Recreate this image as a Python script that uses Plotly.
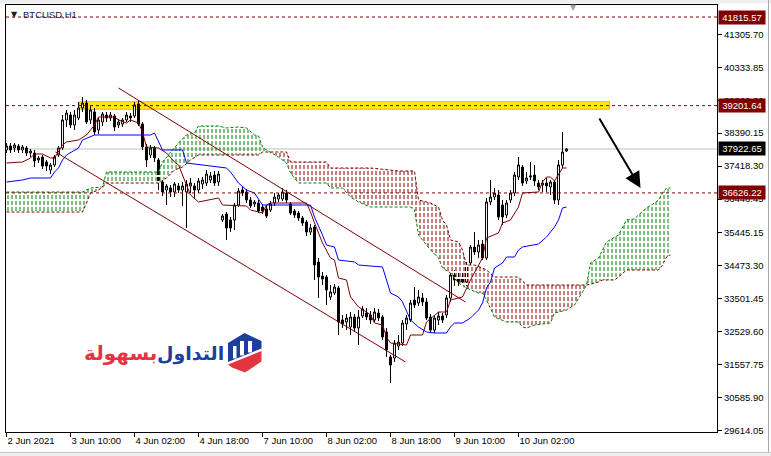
import plotly.graph_objects as go

# ---------------- data ----------------
bars = list(range(141))
open_ = [37893,38011,37952,38011,37893,37952,37804,37804,37598,37686,
         37539,37303,37450,37745,37952,38778,38925,38630,38837,39132,
         39280,38778,39014,38483,38719,38925,38837,38896,38630,38660,
         38778,38896,38896,39250,38660,37981,37745,37952,37598,36949,
         36713,36772,36654,36831,36713,36654,36831,36831,36713,36890,
         36919,37008,37155,36949,35828,36005,35828,35828,36270,36713,
         36654,36418,36300,36329,36211,36152,36123,36329,36447,36447,
         36624,36300,36093,36034,35887,35769,35474,35621,34589,34176,
         34146,33556,33674,33822,32878,32819,32671,32966,32642,32996,
         33084,33025,32878,33084,32966,32524,31786,31757,32111,32199,
         32760,32878,33468,33379,33527,33409,32966,32583,32878,32996,
         33025,33527,34205,34117,34146,33999,34560,35031,34884,35120,
         34707,36359,36506,36565,36270,35975,36418,36624,37096,37391,
         36978,37096,37155,36919,36860,36919,36801,36949,36418,37450,
         37863]
close = [38011,37893,38040,37893,37981,37804,37863,37568,37657,37421,
         37421,37450,37686,37952,38778,38984,38630,38925,39132,39280,
         38719,39073,38424,38778,38955,38837,38925,38571,38719,38778,
         38925,38837,39220,38660,37981,37598,37952,37657,36949,36654,
         36831,36654,36890,36713,36831,36890,36919,36713,36978,37008,
         37185,37126,36919,37185,35946,35592,35592,36270,36683,36624,
         36418,36241,36359,36093,36093,35946,36300,36506,36565,36654,
         36418,36034,35975,35887,35739,35474,35592,34500,34146,34087,
         33763,33704,33852,32819,32760,32937,32966,32642,32966,33202,
         32966,32878,33114,32937,32376,31993,31550,32199,32229,32789,
         32937,33379,33320,33556,33409,32937,32583,32937,32996,32878,
         33527,34205,34058,33999,33999,34500,35031,34884,35090,34707,
         36359,36506,36624,35916,35916,36329,36624,37155,37450,36919,
         37067,37126,36978,36801,36919,36831,36949,36418,37450,37834,
         37922.65]
high = [38099,38099,38099,38070,38040,38011,37922,37893,37716,37745,
        37598,37509,37745,38011,38925,39073,39014,39073,39309,39456,
        39368,39191,39132,38837,39014,39014,39014,38955,38807,38837,
        39014,38984,39309,39368,38719,38070,38040,38011,37657,37008,
        36890,36860,36949,36919,36949,37008,37067,36919,37067,37096,
        37303,37244,37273,37273,36005,36064,35916,36329,36772,36801,
        36742,36506,36418,36418,36300,36270,36388,36624,36624,36772,
        36713,36359,36152,36093,35946,35828,35710,35680,34707,34294,
        34205,33910,33940,33881,33025,33055,33114,33055,33173,33291,
        33232,33143,33232,33202,33025,32642,31845,32288,32435,32878,
        33025,33468,33852,33763,33674,33527,33055,33025,33114,33084,
        33615,34294,34353,34294,34294,34589,35090,35474,35238,35238,
        36477,37008,36772,36713,36418,36418,36713,37244,37686,37450,
        37244,37539,37450,37008,37008,37067,37008,37008,37598,38424,
        37952]
low = [37804,37804,37834,37804,37804,37716,37686,37391,37509,37332,
       37273,37185,37391,37686,37893,38571,38542,38483,38778,39014,
       38660,38660,38335,38365,38601,38719,38748,38453,38542,38571,
       38719,38719,38837,38601,37893,37391,37657,37539,36713,36536,
       36270,36506,36506,36624,36241,35592,36624,36477,36624,36742,
       36831,36919,36831,36831,35769,35238,35474,35533,36211,36536,
       36329,36182,36211,36034,36005,35887,36064,36241,36359,36388,
       36329,35975,35887,35798,35651,35356,35385,34058,33527,33910,
       33320,33468,33615,32435,32642,32583,32435,32524,32140,32937,
       32878,32760,32819,32848,32288,31786,31020,31639,31993,32111,
       32583,32819,33232,33291,33291,32878,32494,32494,32730,32789,
       32937,33409,33881,33881,33910,33881,34471,34795,34707,34648,
       34648,36270,36418,35828,35680,35887,36329,36536,37008,36831,
       36890,37008,36831,36713,36654,36654,36565,36300,36270,37362,
       37834]

x_tick_bars = [0, 16, 32, 48, 64, 80, 96, 112, 128]
x_tick_labels = ["2 Jun 2021", "3 Jun 10:00", "4 Jun 02:00", "4 Jun 18:00", "7 Jun 10:00",
                 "8 Jun 02:00", "8 Jun 18:00", "9 Jun 10:00", "10 Jun 02:00"]
y_tick_labels = ["29614.05", "30585.90", "31557.75", "32529.60", "33501.45", "34473.30",
                 "35445.15", "36446.45", "37418.30", "38390.15", "39362.00", "40333.85", "41305.70"]

tenkan_bars = [0,4,6,7,9,11,12,14,15,18,20,22,23,27,28,30,31,33,34,35,38,40,42,43,44,45,46,48,53,54,
               60,61,64,65,66,75,76,77,79,81,82,83,85,86,88,90,91,92,94,95,96,100,101,104,105,108,110,
               111,114,116,119,120,123,124,126,128,129,133,134,135,136,137,139,140]
tenkan_vals = [37509,37539,37657,37775,37775,37657,37657,38040,38129,38188,38335,38630,38866,38866,38778,
               38689,38778,38689,38424,37981,37952,37804,37539,37450,37155,36860,36565,36359,36477,36270,
               36241,36123,36034,36270,36329,36329,36064,35739,35150,34707,34648,34117,34058,33556,33261,
               33114,33025,32789,32730,32376,32199,32140,32435,32435,32819,33114,33114,33468,33556,34058,
               34707,35297,35445,35739,35828,36211,36624,36654,36949,37096,37096,36978,37362,37362]

kijun_bars = [0,4,6,11,12,13,14,15,18,19,22,36,37,38,39,44,45,55,56,58,60,62,64,76,77,79,80,82,83,87,
              88,94,95,96,98,99,101,103,105,107,110,111,112,114,116,118,119,120,121,122,124,125,127,128,
              129,132,133,135,137,138,139,140]
kijun_vals = [36949,37008,37067,37067,37244,37362,37598,37745,37952,38188,38335,38335,38394,38158,37893,
              37893,37509,37362,37244,36919,36713,36624,36270,36270,35916,35385,35090,35031,34648,34589,
              34500,34441,34058,33674,33556,33409,32878,32671,32524,32494,32494,32671,32789,32789,32937,
              33173,33379,33822,33999,34412,34560,34736,34736,34943,35031,35090,35120,35326,35621,35828,
              36182,36211]

span_a_bars = [0,19,21,24,25,38,39,42,43,45,47,48,53,55,58,60,62,63,64,65,66,68,70,71,73,80,81,84,86,88,
               91,101,102,103,104,106,108,109,111,113,115,118,119,120,122,125,128,129,130,132,136,137,140,
               142,144,145,146,148,150,152,153,155,157,158,160,162,163,164,165,166]
span_a_vals = [36654,36654,36772,36801,37244,37244,37539,37952,38099,38335,38394,38601,38601,38542,38571,
               38542,38335,38306,37981,37893,37830,37686,37509,37214,36919,36919,36772,36772,36506,36359,
               36211,36211,36123,35385,35238,34943,34707,34412,34264,33969,33822,33674,33674,33468,32966,
               32819,32819,32671,32642,32730,32789,33084,33173,33320,33704,33910,34560,34707,35179,35327,
               35385,35828,35858,35975,36182,36329,36418,36624,36772,36772]
span_b_bars = [0,19,20,21,23,24,25,38,40,42,44,46,48,63,64,66,70,71,80,81,91,98,102,103,106,108,109,110,
               111,113,114,115,117,119,120,122,128,130,145,148,149,152,153,155,163,164,165,166]
span_b_vals = [36064,36064,36329,36624,36713,36801,36919,36919,37067,37303,37391,37598,37745,37745,37834,
               37834,37834,37539,37539,37362,37362,37273,37273,36418,36329,36211,35828,35680,35238,35179,
               34943,34500,34500,34412,34353,34146,34146,33910,33910,33999,34058,34058,34146,34353,34353,
               34500,34736,34795]
cloud_regions = [(0, 66, "#008000"), (66, 145, "#800000"), (145, 166, "#008000")]

channel_upper_bars = [28, 114.75]
channel_upper_prices = [39722, 33409]
channel_lower_bars = [12.25, 99.75]
channel_lower_prices = [37834, 31639]

level_prices = [41815.57, 39201.64, 36626.22]
current_price = 37922.65
zone_bars = [18.25, 150.75]
zone_prices = [39094, 39318]
arrow_tail = (148, 38866)
arrow_tip = (158.5, 36772)

# ---------------- layout helpers ----------------
W, H = 771, 456
ML, MR, MT, MB = 6, 54, 5, 24
PW, PH = W - ML - MR, H - MT - MB


def px(x):
    return (x - ML) / PW


def py(y):
    return (H - MB - y) / PH


def path(points):
    return "M " + " L ".join(f"{px(a):.5f},{py(b):.5f}" for a, b in points) + " Z"


MAROON = "#800000"
FONT = "Liberation Sans"

fig = go.Figure()

# Ichimoku cloud hatching
for lo, hi, col in cloud_regions:
    bx = [b for b in span_b_bars if lo <= b <= hi]
    bv = [v for b, v in zip(span_b_bars, span_b_vals) if lo <= b <= hi]
    ax_ = [b for b in span_a_bars if lo <= b <= hi]
    av = [v for b, v in zip(span_a_bars, span_a_vals) if lo <= b <= hi]
    fig.add_trace(go.Scatter(x=bx, y=bv, mode="lines", line=dict(width=0), hoverinfo="skip"))
    fig.add_trace(go.Scatter(x=ax_, y=av, mode="lines", line=dict(width=0), fill="tonexty",
                             fillcolor="rgba(0,0,0,0)",
                             fillpattern=dict(shape="|", size=4, solidity=0.25, fgcolor=col,
                                              bgcolor="rgba(0,0,0,0)", fillmode="replace"),
                             hoverinfo="skip"))
    fig.add_trace(go.Scatter(x=bx, y=bv, mode="lines", line=dict(width=0), hoverinfo="skip"))
    fig.add_trace(go.Scatter(x=ax_, y=av, mode="lines", line=dict(width=0), fill="tonexty",
                             fillcolor="rgba(0,0,0,0)",
                             fillpattern=dict(shape="-", size=6, solidity=0.34, fgcolor="white",
                                              bgcolor="rgba(0,0,0,0)", fillmode="replace"),
                             hoverinfo="skip"))

fig.add_trace(go.Scatter(x=span_a_bars, y=span_a_vals, mode="lines",
                         line=dict(color="#008000", width=1, dash="3px,2px"), hoverinfo="skip"))
fig.add_trace(go.Scatter(x=span_b_bars, y=span_b_vals, mode="lines",
                         line=dict(color=MAROON, width=1, dash="3px,2px"), hoverinfo="skip"))

# channel
fig.add_trace(go.Scatter(x=channel_upper_bars, y=channel_upper_prices, mode="lines",
                         line=dict(color=MAROON, width=1), hoverinfo="skip"))
fig.add_trace(go.Scatter(x=channel_lower_bars, y=channel_lower_prices, mode="lines",
                         line=dict(color=MAROON, width=1), hoverinfo="skip"))

# candles
fig.add_trace(go.Candlestick(x=bars, open=open_, high=high, low=low, close=close,
                             increasing=dict(line=dict(color="black", width=1), fillcolor="white"),
                             decreasing=dict(line=dict(color="black", width=1), fillcolor="black"),
                             whiskerwidth=0, hoverinfo="skip"))

# tenkan / kijun
fig.add_trace(go.Scatter(x=tenkan_bars, y=tenkan_vals, mode="lines",
                         line=dict(color="#800000", width=1), hoverinfo="skip"))
fig.add_trace(go.Scatter(x=kijun_bars, y=kijun_vals, mode="lines",
                         line=dict(color="#0000FF", width=1), hoverinfo="skip"))

shapes = []
# yellow zone
shapes.append(dict(type="rect", xref="x", yref="y", x0=zone_bars[0], x1=zone_bars[1],
                   y0=zone_prices[0], y1=zone_prices[1], fillcolor="#FFE81A",
                   line=dict(color="#F2B800", width=1), layer="below"))
# horizontal levels
for lv in level_prices:
    shapes.append(dict(type="line", xref="paper", yref="y", x0=0, x1=1, y0=lv, y1=lv,
                       line=dict(color=MAROON, width=1, dash="3px,3px"), layer="above"))
shapes.append(dict(type="line", xref="paper", yref="y", x0=0, x1=1, y0=current_price,
                   y1=current_price, line=dict(color="#C0C0C0", width=1), layer="below"))
# window chrome
shapes.append(dict(type="rect", xref="paper", yref="paper", x0=px(0), x1=px(771),
                   y0=py(3.5), y1=py(0), fillcolor="#EFEFEF", line=dict(width=0)))
shapes.append(dict(type="line", xref="paper", yref="paper", x0=px(768.5), x1=px(768.5),
                   y0=py(456), y1=py(0), line=dict(color="#A8A8A8", width=1)))
shapes.append(dict(type="line", xref="paper", yref="paper", x0=px(0), x1=px(771),
                   y0=py(452.5), y1=py(452.5), line=dict(color="#C8C8C8", width=1)))
shapes.append(dict(type="rect", xref="paper", yref="paper", x0=px(0), x1=px(771),
                   y0=py(456), y1=py(453), fillcolor="#EFEFEF", line=dict(width=0)))
# logo icon
shapes.append(dict(type="path", xref="paper", yref="paper",
                   path=path([(228, 343), (244.5, 333), (261.5, 341), (261.5, 348.5), (228, 362)]),
                   fillcolor="#1C3F9E", line=dict(width=0)))
for (x0, y0, x1, y1) in [(233, 346, 236.5, 358.5), (240, 341, 244, 355.5), (248, 341, 252, 352.5)]:
    shapes.append(dict(type="rect", xref="paper", yref="paper", x0=px(x0), x1=px(x1),
                       y0=py(y1), y1=py(y0), fillcolor="white", line=dict(width=0)))
shapes.append(dict(type="path", xref="paper", yref="paper",
                   path=path([(228, 364.5), (261.5, 351), (261.5, 361.5), (245, 372.5), (232, 367.5)]),
                   fillcolor="#E3343F", line=dict(width=0)))

annotations = []
for lv in level_prices:
    annotations.append(dict(x=1, xref="paper", xanchor="left", xshift=1, y=lv, yref="y",
                            text=f"{lv:.2f}", showarrow=False, bgcolor=MAROON, width=44,
                            font=dict(color="white", size=9.5, family=FONT), borderpad=1))
annotations.append(dict(x=1, xref="paper", xanchor="left", xshift=1, y=current_price, yref="y",
                        text=f"{current_price:.2f}", showarrow=False, bgcolor="black", width=44,
                        font=dict(color="white", size=9.5, family=FONT), borderpad=1))
annotations.append(dict(x=arrow_tip[0], y=arrow_tip[1], ax=arrow_tail[0], ay=arrow_tail[1],
                        xref="x", yref="y", axref="x", ayref="y", text="", showarrow=True,
                        arrowhead=2, arrowsize=1.6, arrowwidth=2, arrowcolor="black"))
annotations.append(dict(x=px(9), y=py(14), xref="paper", yref="paper", xanchor="left",
                        yanchor="middle", text="▼", showarrow=False,
                        font=dict(size=8, color="#202020", family="DejaVu Sans")))
annotations.append(dict(x=px(21), y=py(14), xref="paper", yref="paper", xanchor="left",
                        yanchor="middle", text="BTCUSD,H1", showarrow=False,
                        font=dict(size=9.5, color="#1A1A50", family=FONT)))
annotations.append(dict(x=px(573), y=py(7), xref="paper", yref="paper", xanchor="center",
                        yanchor="middle", text="▼", showarrow=False,
                        font=dict(size=8, color="#A0A0A0", family="DejaVu Sans")))
annotations.append(dict(x=px(226), y=py(353), xref="paper", yref="paper", xanchor="right",
                        yanchor="middle", text="<b>التداول</b>", showarrow=False,
                        font=dict(size=19, color="#1C3F9E", family="DejaVu Sans")))
annotations.append(dict(x=px(159), y=py(353), xref="paper", yref="paper", xanchor="right",
                        yanchor="middle", text="<b>بسهولة</b>", showarrow=False,
                        font=dict(size=20, color="#E3343F", family="DejaVu Sans")))

fig.update_layout(
    width=W, height=H, margin=dict(l=ML, r=MR, t=MT, b=MB),
    paper_bgcolor="white", plot_bgcolor="white", showlegend=False,
    shapes=shapes, annotations=annotations, hovermode=False,
    xaxis=dict(range=[-0.125, 177.625], tickvals=x_tick_bars, ticktext=x_tick_labels,
               ticks="outside", ticklen=4, tickcolor="black", ticklabelposition="outside right",
               showgrid=False, zeroline=False, showline=True, linecolor="black", linewidth=1,
               mirror=True, rangeslider=dict(visible=False),
               tickfont=dict(size=9.5, family=FONT, color="black")),
    yaxis=dict(range=[29574, 42170], side="right", tickvals=[float(t) for t in y_tick_labels],
               ticktext=y_tick_labels, ticks="outside", ticklen=4, tickcolor="black",
               showgrid=False, zeroline=False, showline=True, linecolor="black", linewidth=1,
               mirror=True, tickfont=dict(size=9.5, family=FONT, color="black")),
)

fig.write_html("out.html", config={"displayModeBar": False},
               post_script="document.body.style.margin='0px';document.body.style.overflow='hidden';")
